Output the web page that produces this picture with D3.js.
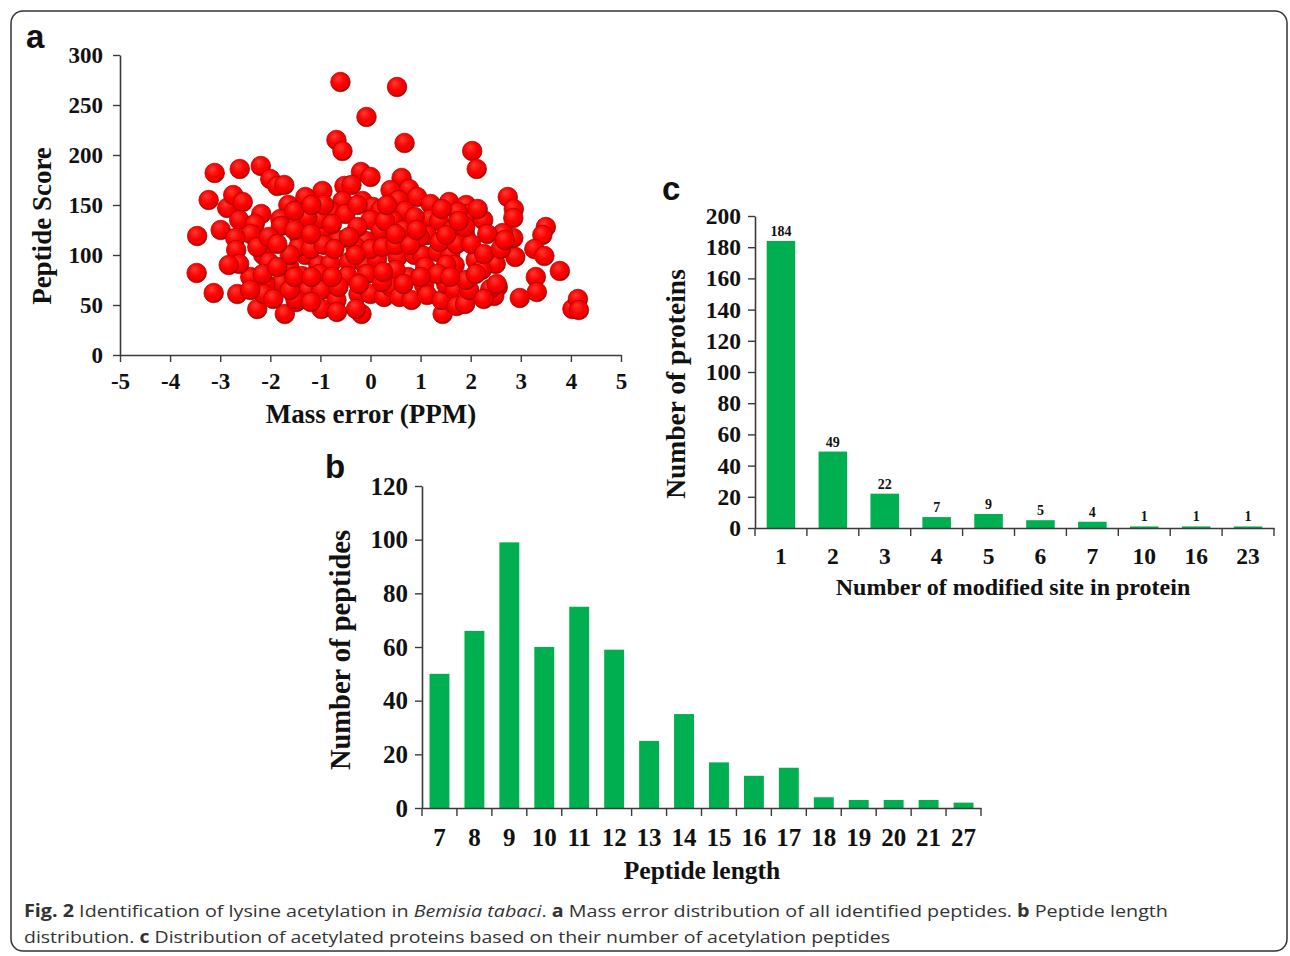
<!DOCTYPE html>
<html>
<head>
<meta charset="utf-8">
<script src="https://cdn.jsdelivr.net/npm/d3@7"></script>
<style>
  html, body { margin: 0; padding: 0; background: #fff; }
  svg { display: block; }
</style>
</head>
<body>
<div id="container"></div>
<script>
// ------ data ------
// panel a: mass error (ppm) vs peptide score
const massError = [
  -0.60, 0.53, -0.08, -0.68, -0.56, 0.68, 2.03, 2.12, -3.11, -2.61, -2.19, -0.19, 0.00,
  -3.23, -2.86, -2.74, -2.55, -3.46, -3.47, -3.13, -2.99, -2.66, -2.26, -1.71, -0.18, 1.44,
  2.74, 2.86, 2.85, 3.50, 3.43, 3.27, 3.47, 3.78, 3.30, 3.32, 2.98, 4.03, 4.14, 4.16,
  2.89, 2.85, 2.64, 2.54, 2.47,
  -2.00, -1.86, -1.72, -0.96, -0.52, -0.38, 0.62, 0.40, 0.77, 0.93, -1.30, -1.64, 1.20,
  1.57, 1.91, 1.95, 0.56, -0.16, -0.56, 0.05, 0.20, 0.69, -0.77, -0.50, -2.18, -1.80,
  -2.62, 2.25, 1.19, 1.37, 2.14, 1.74, 0.00, 0.45, 0.66, 1.13, 2.33, 1.89, 1.63, 0.20,
  -0.09, -0.64, -0.98, -1.23, -1.42, -1.79, -2.31, -2.39, -2.70, -2.68, -2.14, -2.26,
  -2.03, -1.62, -1.30, -1.04, -0.80, -0.43, -0.11, 0.13, 0.54, 0.88, 1.03, 1.34, 1.59,
  0.98, 2.10, 2.50, 2.22, 1.68, 1.51, 1.09, 0.75, 0.50, -0.07, -0.46, -1.02, -1.37,
  -1.78, -2.40, -2.62, -2.83, -2.10, -2.13, -1.94, -1.48, -1.25, -0.98, -0.68, -0.24,
  0.00, 0.27, 0.41, 0.58, 0.82, 1.07, 1.13, 1.42, 1.51, 1.68, 1.72, 1.89, 1.97, 1.91,
  2.39, 2.26, -0.98, -0.67, -0.29, -1.50, -1.19, 0.66, 0.23, -0.23, -0.64, -1.61, -2.40,
  -1.44, -1.19, -0.93, -0.72, -0.30, 0.00, 0.24, 0.50, 0.79, 1.38, 1.72, 2.01, -1.61,
  -0.30, -1.02, -1.26, -1.52, -0.77, -0.26, 0.29, 0.88, 1.42, 0.92, 1.89, -1.52, -2.03,
  -1.86, 2.27, 2.60, 2.68, -1.19, -0.43, 0.50, 1.51, -0.93, -0.26, 0.33, -1.18, 1.76,
  -2.15, -1.86, -1.52, -1.18, -0.77, 0.25, 1.34, 1.59, 2.10, 2.52, 1.00
];
const peptideScore = [
  273, 268, 238, 215, 204, 212, 204, 186, 182, 186, 189, 183, 178,
  155, 147, 160, 153, 119, 82, 62, 125, 61, 46, 41, 41, 41,
  158, 146, 137, 128, 120, 106, 99, 84, 78, 63, 57, 46, 56, 45,
  98, 117, 122, 68, 59,
  176, 169, 170, 164, 169, 170, 177, 165, 166, 158, 158, 150, 151,
  153, 150, 141, 155, 154, 154, 148, 145, 144, 143, 141, 141, 136,
  135, 135, 136, 134, 146, 143, 135, 134, 125, 120, 121, 120, 125, 124,
  114, 115, 125, 125, 118, 129, 131, 121, 117, 105, 100, 108,
  93, 88, 100, 90, 91, 93, 90, 96, 98, 100, 100, 103, 101,
  118, 95, 91, 85, 90, 90, 88, 78, 85, 81, 79, 81, 79,
  72, 78, 91, 90, 71, 61, 56, 53, 65, 65, 55, 61,
  61, 58, 68, 58, 55, 70, 60, 55, 71, 65, 49, 51, 65, 75,
  66, 56, 46, 43, 46, 56, 53, 71, 73, 71, 68, 65, 65,
  108, 106, 110, 106, 108, 106, 108, 110, 110, 113, 111, 111, 100,
  100, 136, 138, 144, 131, 128, 134, 138, 146, 125, 128, 125, 118,
  111, 101, 106, 115, 121, 118, 121, 120, 150, 150, 150, 150, 134,
  81, 88, 78, 78, 78, 83, 81, 78, 81, 71, 78
];
const scatterXTicks = [-5, -4, -3, -2, -1, 0, 1, 2, 3, 4, 5];
const scatterYTicks = [0, 50, 100, 150, 200, 250, 300];

// panel b: peptide length distribution
const peptideLength = ['7', '8', '9', '10', '11', '12', '13', '14', '15', '16', '17', '18', '19', '20', '21', '27'];
const peptideCount = [50, 66, 99, 60, 75, 59, 25, 35, 17, 12, 15, 4, 3, 3, 3, 2];
const peptideYTicks = [0, 20, 40, 60, 80, 100, 120];

// panel c: modified sites per protein
const siteNumber = ['1', '2', '3', '4', '5', '6', '7', '10', '16', '23'];
const proteinCount = [184, 49, 22, 7, 9, 5, 4, 1, 1, 1];
const proteinYTicks = [0, 20, 40, 60, 80, 100, 120, 140, 160, 180, 200];

// ------ setup ------
const width = 1290, height = 956;
const serif = "'Liberation Serif', 'Times New Roman', serif";
const axisColor = '#3a3a3a';
const barColor = '#00b050';

const svg = d3.select('#container').append('svg')
  .attr('width', width)
  .attr('height', height);

const defs = svg.append('defs');
const grad = defs.append('radialGradient')
  .attr('id', 'ball')
  .attr('cx', '45%').attr('cy', '40%').attr('r', '60%')
  .attr('fx', '38%').attr('fy', '30%');
grad.append('stop').attr('offset', '0%').attr('stop-color', '#ff3b30');
grad.append('stop').attr('offset', '55%').attr('stop-color', '#ff0000');
grad.append('stop').attr('offset', '85%').attr('stop-color', '#e80000');
grad.append('stop').attr('offset', '100%').attr('stop-color', '#a80000');

// frame
svg.append('rect')
  .attr('x', 11).attr('y', 11)
  .attr('width', 1276).attr('height', 940)
  .attr('rx', 12)
  .attr('fill', 'none')
  .attr('stroke', '#333')
  .attr('stroke-width', 1.5);

// plain hyphen for negatives, like the original figure
const plain = d => String(d);

function styleAxis(g, fontSize) {
  g.select('.domain').attr('stroke', axisColor).attr('stroke-width', 1.6);
  g.selectAll('.tick line').attr('stroke', axisColor).attr('stroke-width', 1.4);
  g.selectAll('.tick text')
    .attr('fill', '#111')
    .style('font-family', serif)
    .style('font-weight', 'bold')
    .style('font-size', fontSize + 'px');
}

function panelLetter(txt, x, y) {
  svg.append('text')
    .attr('x', x).attr('y', y)
    .style('font-family', "'Liberation Sans', Arial, sans-serif")
    .style('font-weight', 'bold')
    .style('font-size', '33px')
    .attr('fill', '#111')
    .text(txt);
}

function axisTitle(txt, x, y, size, rotate) {
  svg.append('text')
    .attr('transform', `translate(${x},${y})` + (rotate ? ' rotate(-90)' : ''))
    .attr('text-anchor', 'middle')
    .style('font-family', serif)
    .style('font-weight', 'bold')
    .style('font-size', size + 'px')
    .attr('fill', '#111')
    .text(txt);
}

// ------ panel a: scatter ------
function drawScatter() {
  const x = d3.scaleLinear().domain([-5, 5]).range([120, 621]);
  const y = d3.scaleLinear().domain([0, 300]).range([355, 55]);

  const pts = massError.map((m, i) => ({ m: m, s: peptideScore[i] }));

  svg.append('g').attr('class', 'dots')
    .selectAll('circle').data(pts)
    .enter().append('circle')
      .attr('cx', d => x(d.m))
      .attr('cy', d => y(d.s))
      .attr('r', 9.8)
      .attr('fill', 'url(#ball)')
      .attr('stroke', '#9c0000')
      .attr('stroke-width', 0.7);

  const gx = svg.append('g')
    .attr('transform', `translate(0,${y(0)})`)
    .call(d3.axisBottom(x).tickValues(scatterXTicks).tickFormat(plain)
      .tickSize(7).tickSizeOuter(0).tickPadding(11));
  styleAxis(gx, 23);

  const gy = svg.append('g')
    .attr('transform', `translate(${x(-5)},0)`)
    .call(d3.axisLeft(y).tickValues(scatterYTicks).tickFormat(plain)
      .tickSize(7).tickSizeOuter(0).tickPadding(10));
  styleAxis(gy, 23);

  axisTitle('Mass error (PPM)', 371, 423, 27, false);
  axisTitle('Peptide Score', 51, 226, 27, true);
  panelLetter('a', 26, 48);
}

// ------ bar panels ------
function drawBars(opt) {
  const x = d3.scaleBand().domain(opt.cats).range(opt.xRange).paddingInner(opt.pad).paddingOuter(opt.pad / 2);
  const y = d3.scaleLinear().domain(opt.yDomain).range(opt.yRange);
  const data = opt.cats.map((c, i) => ({ c: c, v: opt.values[i] }));

  svg.append('g')
    .selectAll('rect').data(data)
    .enter().append('rect')
      .attr('x', d => x(d.c))
      .attr('y', d => y(d.v))
      .attr('width', x.bandwidth())
      .attr('height', d => y(0) - y(d.v))
      .attr('fill', barColor);

  if (opt.labels) {
    svg.append('g')
      .selectAll('text').data(data)
      .enter().append('text')
        .attr('x', d => x(d.c) + x.bandwidth() / 2)
        .attr('y', d => y(d.v) - 5)
        .attr('text-anchor', 'middle')
        .style('font-family', serif)
        .style('font-weight', 'bold')
        .style('font-size', '14px')
        .attr('fill', '#111')
        .text(d => d.v);
  }

  // x axis: labels centred, tick marks on band edges
  const gx = svg.append('g')
    .attr('transform', `translate(0,${y(0)})`)
    .call(d3.axisBottom(x).tickSize(0).tickPadding(opt.xPad));
  styleAxis(gx, opt.tickFont);
  const step = x.step();
  const edges = d3.range(opt.cats.length + 1).map(i => opt.xRange[0] + i * step);
  gx.selectAll('.edge').data(edges)
    .enter().append('line')
      .attr('class', 'edge')
      .attr('x1', d => d).attr('x2', d => d)
      .attr('y1', 0).attr('y2', 8)
      .attr('stroke', axisColor)
      .attr('stroke-width', 1.4);

  const gy = svg.append('g')
    .attr('transform', `translate(${opt.xRange[0]},0)`)
    .call(d3.axisLeft(y).tickValues(opt.yTicks).tickSize(7).tickSizeOuter(0).tickPadding(7));
  styleAxis(gy, opt.tickFont);
}

drawScatter();

drawBars({
  cats: peptideLength, values: peptideCount,
  xRange: [422, 981], yRange: [808, 486], yDomain: [0, 120], yTicks: peptideYTicks,
  pad: 0.43, tickFont: 25, xPad: 20, labels: false
});
axisTitle('Number of peptides', 350, 650, 28.5, true);
axisTitle('Peptide length', 702, 879, 25.5, false);
panelLetter('b', 325, 478);

drawBars({
  cats: siteNumber, values: proteinCount,
  xRange: [755, 1274], yRange: [528, 216], yDomain: [0, 200], yTicks: proteinYTicks,
  pad: 0.45, tickFont: 23.5, xPad: 19, labels: true
});
axisTitle('Number of proteins', 685, 384, 27.5, true);
axisTitle('Number of modified site in protein', 1013, 595, 24, false);
panelLetter('c', 662, 200);

// ------ caption ------
const capFont = "'Open Sans', 'Noto Sans', sans-serif";
const cap1 = svg.append('text')
  .attr('x', 24).attr('y', 917)
  .attr('textLength', 1144).attr('lengthAdjust', 'spacingAndGlyphs')
  .style('font-family', capFont).style('font-size', '17px').attr('fill', '#333');
cap1.append('tspan').style('font-weight', 'bold').text('Fig. 2');
cap1.append('tspan').text(' Identification of lysine acetylation in ');
cap1.append('tspan').style('font-style', 'italic').text('Bemisia tabaci');
cap1.append('tspan').text('. ');
cap1.append('tspan').style('font-weight', 'bold').text('a');
cap1.append('tspan').text(' Mass error distribution of all identified peptides. ');
cap1.append('tspan').style('font-weight', 'bold').text('b');
cap1.append('tspan').text(' Peptide length');

const cap2 = svg.append('text')
  .attr('x', 24).attr('y', 943)
  .attr('textLength', 866).attr('lengthAdjust', 'spacingAndGlyphs')
  .style('font-family', capFont).style('font-size', '17px').attr('fill', '#333');
cap2.append('tspan').text('distribution. ');
cap2.append('tspan').style('font-weight', 'bold').text('c');
cap2.append('tspan').text(' Distribution of acetylated proteins based on their number of acetylation peptides');
</script>
</body>
</html>
